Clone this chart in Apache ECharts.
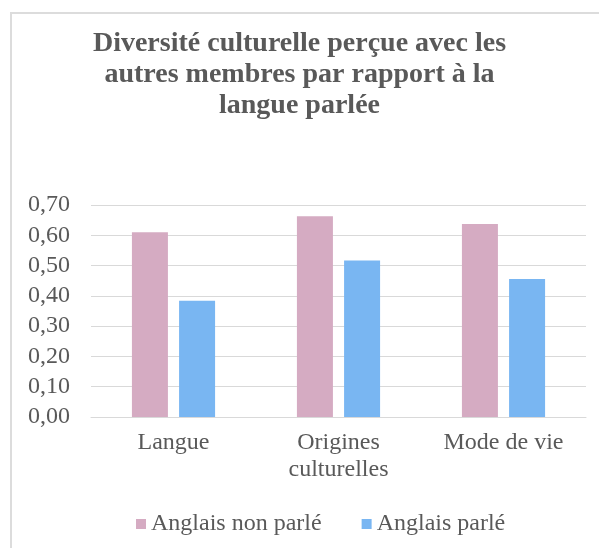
<!DOCTYPE html>
<html>
<head>
<meta charset="utf-8">
<script src="https://cdn.jsdelivr.net/npm/echarts@6/dist/echarts.min.js"></script>
<style>
  html, body { margin: 0; padding: 0; background: #ffffff; }
  #chart { width: 599px; height: 548px; }
</style>
</head>
<body>
<div id="chart"></div>
<script>
// Catégories et valeurs moyennes par groupe
const categories = ['Langue', 'Origines\nculturelles', 'Mode de vie'];
const seriesNames = ['Anglais non parlé', 'Anglais parlé'];
const nonParle = [0.61, 0.663, 0.637];
const parle = [0.384, 0.517, 0.456];
const yTicks = { min: 0, max: 0.7, step: 0.1 };

const fontFamily = 'Liberation Serif';
const textColor = '#595959';
const serifText = { fontFamily: fontFamily, fontSize: 24, color: textColor };

const chart = echarts.init(document.getElementById('chart'), null, { renderer: 'canvas' });

chart.setOption({
  backgroundColor: '#ffffff',
  animation: false,
  textStyle: { fontFamily: fontFamily, color: textColor },
  title: {
    text: 'Diversité culturelle perçue avec les\nautres membres par rapport à la\nlangue parlée',
    left: 'center',
    top: 23,
    textStyle: {
      fontFamily: fontFamily,
      fontWeight: 'bold',
      fontSize: 28,
      lineHeight: 31,
      color: textColor
    }
  },
  legend: {
    top: 507,
    left: 131,
    itemWidth: 10,
    itemHeight: 10,
    itemGap: 40,
    icon: 'rect',
    formatter: name => '{s|' + name + '}',
    textStyle: Object.assign({}, serifText, { rich: { s: serifText } }),
    data: seriesNames
  },
  grid: { left: 91, right: 13, top: 205, bottom: 131, containLabel: false },
  xAxis: {
    type: 'category',
    data: categories,
    axisTick: { show: false },
    axisLine: { lineStyle: { color: '#d9d9d9', width: 1 } },
    axisLabel: {
      fontFamily: fontFamily,
      fontSize: 24,
      lineHeight: 27,
      color: textColor,
      margin: 12
    }
  },
  yAxis: {
    type: 'value',
    min: yTicks.min,
    max: yTicks.max,
    interval: yTicks.step,
    axisLine: { show: false },
    axisTick: { show: false },
    splitLine: { lineStyle: { color: '#d9d9d9', width: 1 } },
    axisLabel: {
      fontFamily: fontFamily,
      fontSize: 24,
      color: textColor,
      margin: 21,
      formatter: v => v.toFixed(2).replace('.', ',')
    }
  },
  series: [
    {
      name: seriesNames[0],
      type: 'bar',
      data: nonParle,
      barWidth: 36,
      barGap: '31%',
      itemStyle: { color: '#d5abc2' }
    },
    {
      name: seriesNames[1],
      type: 'bar',
      data: parle,
      barWidth: 36,
      itemStyle: { color: '#79b6f2' }
    }
  ],
  graphic: [
    // cadre du graphique : bord supérieur et bord gauche
    { type: 'line', silent: true, shape: { x1: 10, y1: 13, x2: 599, y2: 13 }, style: { stroke: '#dcdcdc', lineWidth: 2 } },
    { type: 'line', silent: true, shape: { x1: 11, y1: 13, x2: 11, y2: 548 }, style: { stroke: '#dcdcdc', lineWidth: 2 } }
  ]
});
</script>
</body>
</html>
